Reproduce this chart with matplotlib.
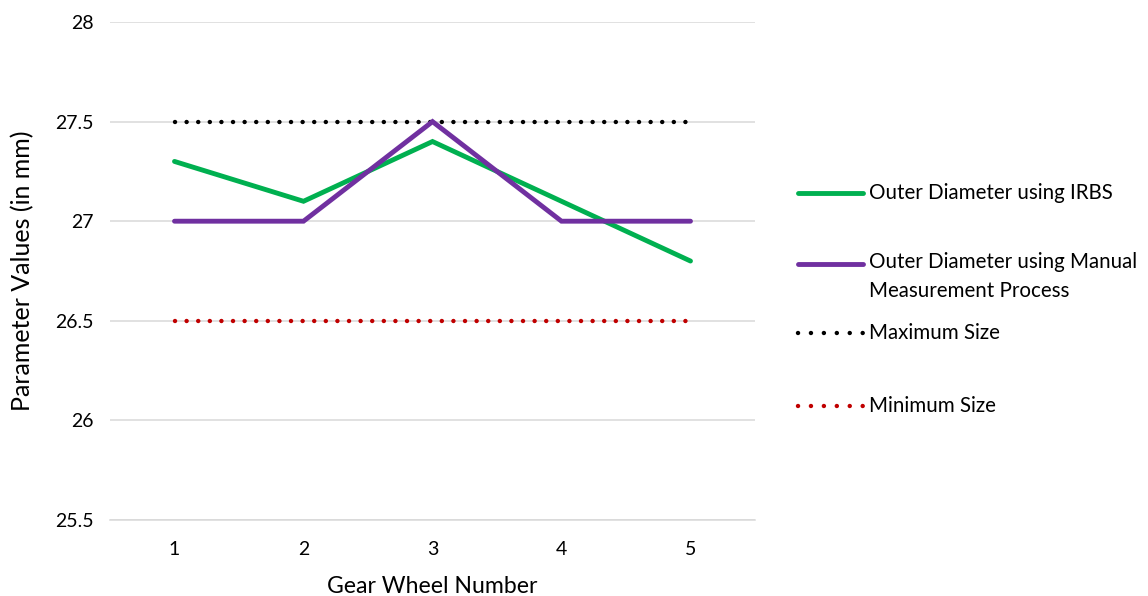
import matplotlib.pyplot as plt
from matplotlib.lines import Line2D

plt.rcParams['font.family'] = ['Lato', 'DejaVu Sans']

# gear wheel measurements (mm)
gear_numbers = [1, 2, 3, 4, 5]
irbs_diameter = [27.3, 27.1, 27.4, 27.1, 26.8]
manual_diameter = [27.0, 27.0, 27.5, 27.0, 27.0]
max_size = [27.5, 27.5, 27.5, 27.5, 27.5]
min_size = [26.5, 26.5, 26.5, 26.5, 26.5]

series_labels = ['Outer Diameter using IRBS',
                 'Outer Diameter using Manual\nMeasurement Process',
                 'Maximum Size',
                 'Minimum Size']

green = '#00B050'
purple = '#7030A0'
red = '#C00000'
dots = (0, (0.01, 2.6))
key_dots = (0, (0.01, 2.9))

fig = plt.figure(figsize=(11.48, 5.96), dpi=100)
ax = fig.add_axes([110 / 1148, 1 - 520 / 596, 645 / 1148, 498 / 596])

ax.plot(gear_numbers, irbs_diameter, color=green, lw=3.5, solid_capstyle='round', solid_joinstyle='miter', zorder=3)
ax.plot(gear_numbers, manual_diameter, color=purple, lw=3.5, solid_capstyle='round', solid_joinstyle='miter', zorder=4)
ax.plot(gear_numbers, max_size, color='black', lw=3.2, linestyle=dots, dash_capstyle='round', zorder=2)
ax.plot(gear_numbers, min_size, color=red, lw=3.2, linestyle=dots, dash_capstyle='round', zorder=2)

ax.set_xlim(0.5, 5.5)
ax.set_ylim(25.5, 28)
ax.set_xticks(gear_numbers)
ax.set_yticks([25.5, 26, 26.5, 27, 27.5, 28])
ax.set_yticklabels(['25.5', '26', '26.5', '27', '27.5', '28'])
ax.grid(axis='y', color='#D9D9D9', lw=1.1)
ax.set_axisbelow(True)
for side in ['top', 'right', 'left']:
    ax.spines[side].set_visible(False)
ax.spines['bottom'].set_color('#D9D9D9')
ax.spines['bottom'].set_linewidth(1.1)
ax.tick_params(length=0, labelsize=14, colors='#000000')
ax.tick_params(axis='y', pad=12)
ax.tick_params(axis='x', pad=15)

ax.set_xlabel('Gear Wheel Number', fontsize=16.6, labelpad=13)
ax.set_ylabel('Parameter Values (in mm)', fontsize=18)
ax.yaxis.set_label_coords(-0.118, 0.5)

# legend drawn entry by entry to keep Excel-like spacing
legend_y = [193, 264, 333, 406]
legend_style = [dict(color=green, lw=3.5, solid_capstyle='round'),
                dict(color=purple, lw=3.5, solid_capstyle='round'),
                dict(color='black', lw=3.2, linestyle=key_dots, dash_capstyle='round'),
                dict(color=red, lw=3.2, linestyle=key_dots, dash_capstyle='round')]
for y, label, style in zip(legend_y, series_labels, legend_style):
    yf = 1 - y / 596
    fig.add_artist(Line2D([798 / 1148, 863 / 1148], [yf, yf], transform=fig.transFigure, **style))
    if '\n' in label:
        fig.text(869 / 1148, 1 - (y - 12) / 596, label, fontsize=14.8, va='top', linespacing=1.55)
    else:
        fig.text(869 / 1148, yf, label, fontsize=14.8, va='center')

fig.savefig('out.png', dpi=100)
